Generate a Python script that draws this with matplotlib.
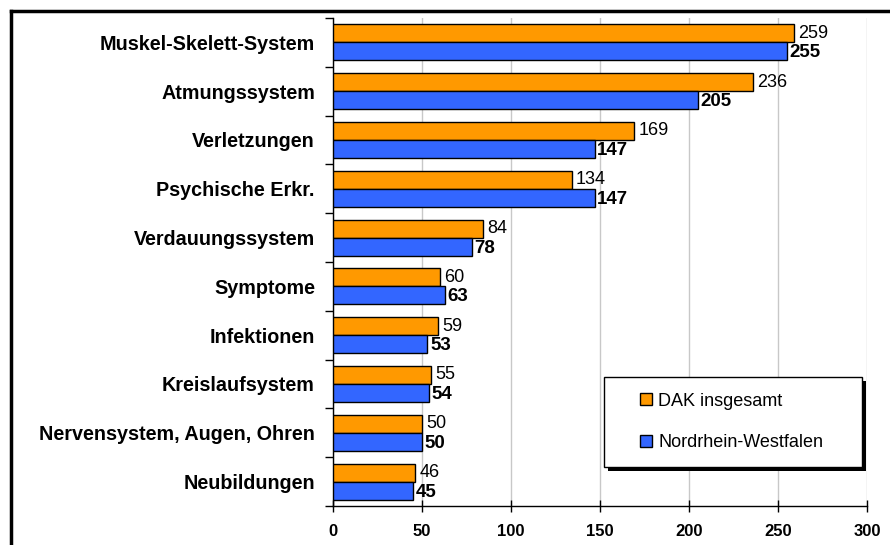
import numpy as np
import matplotlib.pyplot as plt
from matplotlib.patches import Rectangle
from matplotlib.lines import Line2D

plt.rcParams['font.family'] = ['Liberation Sans', 'DejaVu Sans']

categories = ['Muskel-Skelett-System', 'Atmungssystem', 'Verletzungen',
              'Psychische Erkr.', 'Verdauungssystem', 'Symptome',
              'Infektionen', 'Kreislaufsystem', 'Nervensystem, Augen, Ohren',
              'Neubildungen']
dak = [259, 236, 169, 134, 84, 60, 59, 55, 50, 46]
nrw = [255, 205, 147, 147, 78, 63, 53, 54, 50, 45]
series_names = ['DAK insgesamt', 'Nordrhein-Westfalen']

orange = '#FF9900'
blue = '#3366FF'

fig = plt.figure(figsize=(8.9, 5.45), dpi=100)
ax = fig.add_axes([333 / 890, 39 / 545, 534 / 890, 488 / 545])

n = len(categories)
y = np.arange(n)
h = 0.37

ax.barh(y - h / 2, dak, height=h, color=orange, edgecolor='black', linewidth=1, zorder=3)
ax.barh(y + h / 2, nrw, height=h, color=blue, edgecolor='black', linewidth=1, zorder=3)

for i in range(n):
    ax.text(dak[i] + 2.5, y[i] - h / 2, str(dak[i]), va='center', ha='left',
            fontsize=13, zorder=4)
    ax.text(nrw[i] + 1.5, y[i] + h / 2 + 0.03, str(nrw[i]), va='center', ha='left',
            fontsize=13.5, fontweight='bold', zorder=4)

ax.set_xlim(0, 300)
ax.set_ylim(n - 0.5, -0.5)
ax.set_xticks(range(0, 301, 50))
ax.set_yticks(y)
ax.set_yticklabels(categories, fontweight='bold', fontsize=14.2)
ax.set_yticks(np.arange(-0.5, n, 1), minor=True)
ax.tick_params(axis='y', which='major', length=0, pad=13)
ax.tick_params(axis='y', which='minor', length=6, width=1, direction='out')
ax.tick_params(axis='x', length=8, width=1, direction='inout', pad=9, labelsize=12)
for lbl in ax.get_xticklabels():
    lbl.set_fontweight('bold')

ax.grid(axis='x', color='#C8C8C8', linewidth=1, zorder=0)
ax.spines['top'].set_visible(False)
ax.spines['right'].set_visible(False)
ax.spines['left'].set_linewidth(1)
ax.spines['bottom'].set_linewidth(1)

# legend box with shadow
lx0, ly0 = (604 - 333) / 534, (506 - 467) / 488
lw, lh = 258 / 534, 90 / 488
ax.add_patch(Rectangle((lx0 + 4 / 534, ly0 - 4 / 488), lw, lh, transform=ax.transAxes,
                       facecolor='black', edgecolor='none', zorder=5))
ax.add_patch(Rectangle((lx0, ly0), lw, lh, transform=ax.transAxes,
                       facecolor='white', edgecolor='black', linewidth=1, zorder=6))
handles = [Rectangle((0, 0), 1, 1, facecolor=orange, edgecolor='black', linewidth=1),
           Rectangle((0, 0), 1, 1, facecolor=blue, edgecolor='black', linewidth=1)]
leg = ax.legend(handles, series_names, loc='center left',
                bbox_to_anchor=(lx0 + 36 / 534, ly0 + lh / 2), frameon=False,
                fontsize=13, handlelength=0.65, handleheight=0.65,
                handletextpad=0.35, labelspacing=1.35, borderpad=0, borderaxespad=0)
leg.set_zorder(7)

# outer frame (cut at right and bottom)
fig.add_artist(Line2D([11 / 890, 1.0], [1 - 11 / 545, 1 - 11 / 545], color='black',
                      linewidth=2.5, transform=fig.transFigure))
fig.add_artist(Line2D([11 / 890, 11 / 890], [0.0, 1 - 11 / 545], color='black',
                      linewidth=2.5, transform=fig.transFigure))

fig.savefig('out.png', dpi=100)
